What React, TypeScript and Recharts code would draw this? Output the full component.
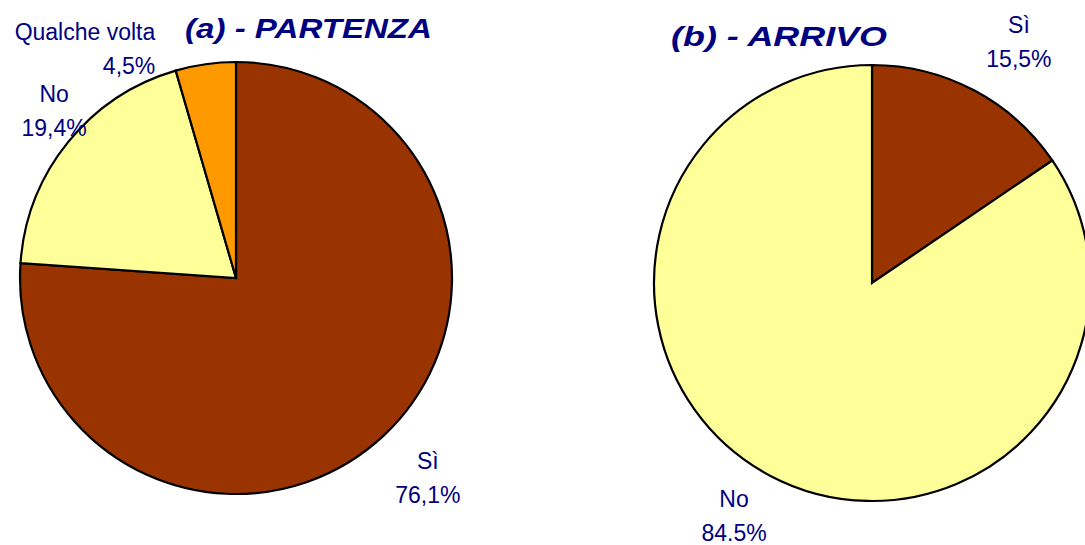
import { PieChart, Pie, Cell } from 'recharts'

// valori
const partenzaNomi = ['Sì', 'No', 'Qualche volta']
const partenzaValori = [76.1, 19.4, 4.5]
const partenzaEtichette = ['76,1%', '19,4%', '4,5%']

const arrivoNomi = ['Sì', 'No']
const arrivoValori = [15.5, 84.5]
const arrivoEtichette = ['15,5%', '84.5%']

const coloriPartenza = ['#993300', '#FFFF99', '#FF9900']
const coloriArrivo = ['#993300', '#FFFF99']

const partenza = partenzaNomi.map((nome, i) => ({ nome, valore: partenzaValori[i], etichetta: partenzaEtichette[i] }))
const arrivo = arrivoNomi.map((nome, i) => ({ nome, valore: arrivoValori[i], etichetta: arrivoEtichette[i] }))

const BLU = '#000080'
const FONT = '"Liberation Sans", Arial, sans-serif'

interface Posto { r: number; spost: number; anchor: 'start' | 'middle' | 'end' }

// posizione etichette (raggio e piccolo spostamento angolare, come in Excel)
const postiPartenza: Posto[] = [
  { r: 277, spost: 0.8, anchor: 'middle' },
  { r: 247, spost: -3.7, anchor: 'middle' },
  { r: 243, spost: 11.3, anchor: 'end' },
]
const postiArrivo: Posto[] = [
  { r: 282, spost: -3.5, anchor: 'middle' },
  { r: 271, spost: -2.7, anchor: 'middle' },
]

const creaEtichetta = (dati: { nome: string; etichetta: string }[], posti: Posto[]) =>
  // eslint-disable-next-line @typescript-eslint/no-explicit-any
  (props: any) => {
    const { cx, cy, midAngle, index } = props
    const p = posti[index]
    const a = ((midAngle + p.spost) * Math.PI) / 180
    const x = cx + p.r * Math.cos(a)
    const y = cy - p.r * Math.sin(a)
    return (
      <text key={index} textAnchor={p.anchor} fill={BLU} fontSize={23} fontFamily={FONT}>
        <tspan x={x} y={y - 9}>{dati[index].nome}</tspan>
        <tspan x={x} y={y + 25}>{dati[index].etichetta}</tspan>
      </text>
    )
  }

export default function App() {
  return (
    <div style={{ position: 'absolute', left: 0, top: 0, width: 1085, height: 545, background: '#fff' }}>
      <PieChart width={1085} height={545} margin={{ top: 0, right: 0, bottom: 0, left: 0 }}>
        <Pie
          data={partenza}
          dataKey="valore"
          nameKey="nome"
          cx={236}
          cy={278}
          outerRadius={216}
          startAngle={90}
          endAngle={-270}
          stroke="#000"
          strokeWidth={2.2}
          labelLine={false}
          label={creaEtichetta(partenza, postiPartenza)}
          isAnimationActive={false}
        >
          {partenza.map((_, i) => <Cell key={i} fill={coloriPartenza[i]} />)}
        </Pie>
        <Pie
          data={arrivo}
          dataKey="valore"
          nameKey="nome"
          cx={872}
          cy={283}
          outerRadius={218}
          startAngle={90}
          endAngle={-270}
          stroke="#000"
          strokeWidth={2.2}
          labelLine={false}
          label={creaEtichetta(arrivo, postiArrivo)}
          isAnimationActive={false}
        >
          {arrivo.map((_, i) => <Cell key={i} fill={coloriArrivo[i]} />)}
        </Pie>
      </PieChart>

      {/* titoli */}
      <svg width={1085} height={545} style={{ position: 'absolute', left: 0, top: 0, pointerEvents: 'none' }}>
        <text x={185} y={38} textLength={247} lengthAdjust="spacingAndGlyphs"
          fill={BLU} fontSize={28} fontWeight="bold" fontStyle="italic" fontFamily={FONT}>
          (a) - PARTENZA
        </text>
        <text x={671} y={46} textLength={216} lengthAdjust="spacingAndGlyphs"
          fill={BLU} fontSize={28} fontWeight="bold" fontStyle="italic" fontFamily={FONT}>
          (b) - ARRIVO
        </text>
      </svg>
    </div>
  )
}
